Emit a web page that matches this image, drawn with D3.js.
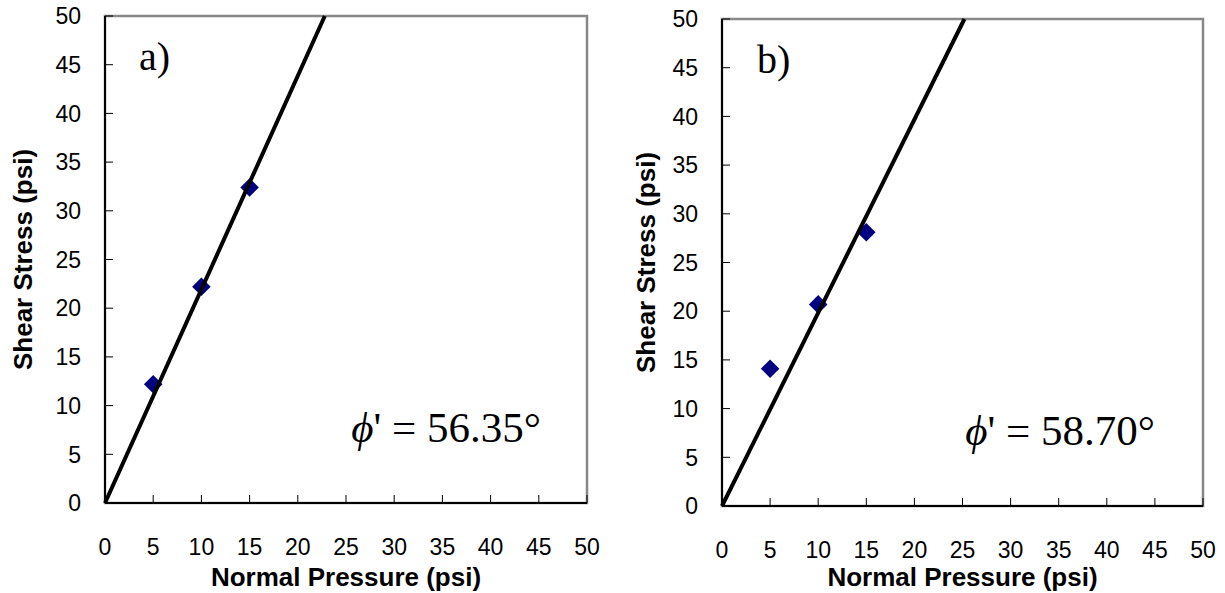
<!DOCTYPE html>
<html>
<head>
<meta charset="utf-8">
<script src="https://cdn.jsdelivr.net/npm/d3@7"></script>
<style>
  body { margin: 0; background: #fff; }
  svg { display: block; }
  .tick-label { font-family: "Liberation Sans", Arial, sans-serif; font-size: 23px; fill: #000; }
  .axis-title { font-family: "Liberation Sans", Arial, sans-serif; font-size: 26px; font-weight: bold; fill: #000; }
  .serif { font-family: "Liberation Serif", "Times New Roman", serif; fill: #000; }
</style>
</head>
<body>
<svg id="chart"></svg>
<script>
// Shear test results
const normalPressure = [5, 10, 15];
const shearStressA = [12.2, 22.2, 32.4];
const shearStressB = [14.1, 20.7, 28.1];

// best-fit line end points (x, y) for each test
const fitXA = [0, 22.8];
const fitYA = [0, 50];
const fitXB = [0, 25.2];
const fitYB = [0, 50];

const axisTicks = [0, 5, 10, 15, 20, 25, 30, 35, 40, 45, 50];
const panelLabels = ['a)', 'b)'];
const frictionAngles = ['56.35°', '58.70°'];

class ShearPlot {

  constructor(_config, _x, _y, _fitX, _fitY) {
    this.config = {
      svg: _config.svg,
      left: _config.left,
      right: _config.right,
      top: _config.top,
      bottom: _config.bottom,
      label: _config.label,
      angle: _config.angle,
      labelPos: _config.labelPos,
      anglePos: _config.anglePos,
      titleX: _config.titleX
    };
    this.data = _x.map((d, i) => ({x: d, y: _y[i]}));
    this.fit = _fitX.map((d, i) => ({x: d, y: _fitY[i]}));
    this.initVis();
  }

  initVis() {
    let vis = this;
    const c = vis.config;

    vis.xScale = d3.scaleLinear().domain([0, 50]).range([c.left, c.right]);
    vis.yScale = d3.scaleLinear().domain([0, 50]).range([c.bottom, c.top]);

    vis.g = c.svg.append('g');

    // plot area frame (grey), axes drawn black over left/bottom
    vis.g.append('rect')
        .attr('x', c.left)
        .attr('y', c.top)
        .attr('width', c.right - c.left)
        .attr('height', c.bottom - c.top)
        .attr('fill', 'none')
        .attr('stroke', '#888')
        .attr('stroke-width', 2.5);

    // inside ticks
    vis.g.selectAll('.xtick')
      .data(axisTicks)
      .join('line')
        .attr('x1', d => vis.xScale(d))
        .attr('x2', d => vis.xScale(d))
        .attr('y1', c.bottom)
        .attr('y2', c.bottom - 8)
        .attr('stroke', '#000')
        .attr('stroke-width', 1);

    vis.g.selectAll('.ytick')
      .data(axisTicks)
      .join('line')
        .attr('x1', c.left)
        .attr('x2', c.left + 8)
        .attr('y1', d => vis.yScale(d))
        .attr('y2', d => vis.yScale(d))
        .attr('stroke', '#000')
        .attr('stroke-width', 1);

    vis.g.append('line')
        .attr('x1', c.left).attr('x2', c.left)
        .attr('y1', c.top).attr('y2', c.bottom)
        .attr('stroke', '#000').attr('stroke-width', 2);
    vis.g.append('line')
        .attr('x1', c.left).attr('x2', c.right)
        .attr('y1', c.bottom).attr('y2', c.bottom)
        .attr('stroke', '#000').attr('stroke-width', 2);

    // tick labels
    vis.g.selectAll('.xlab')
      .data(axisTicks)
      .join('text')
        .attr('class', 'tick-label')
        .attr('x', d => vis.xScale(d))
        .attr('y', c.bottom + 52)
        .attr('text-anchor', 'middle')
        .text(d => d);

    vis.g.selectAll('.ylab')
      .data(axisTicks)
      .join('text')
        .attr('class', 'tick-label')
        .attr('x', c.left - 24)
        .attr('y', d => vis.yScale(d))
        .attr('dy', '0.36em')
        .attr('text-anchor', 'end')
        .text(d => d);

    // axis titles
    vis.g.append('text')
        .attr('class', 'axis-title')
        .attr('x', (c.left + c.right) / 2)
        .attr('y', 586)
        .attr('text-anchor', 'middle')
        .text('Normal Pressure (psi)');

    vis.g.append('text')
        .attr('class', 'axis-title')
        .attr('transform', `translate(${c.titleX},${(c.top + c.bottom) / 2}) rotate(-90)`)
        .attr('text-anchor', 'middle')
        .text('Shear Stress (psi)');

    vis.renderVis();
  }

  renderVis() {
    let vis = this;
    const c = vis.config;

    const line = d3.line()
        .x(d => vis.xScale(d.x))
        .y(d => vis.yScale(d.y));

    vis.g.selectAll('.point')
      .data(vis.data)
      .join('path')
        .attr('class', 'point')
        .attr('d', d3.symbol(d3.symbolDiamond2, 220))
        .attr('transform', d => `translate(${vis.xScale(d.x)},${vis.yScale(d.y)})`)
        .attr('fill', '#000080');

    vis.g.append('path')
        .datum(vis.fit)
        .attr('d', line)
        .attr('fill', 'none')
        .attr('stroke', '#000')
        .attr('stroke-width', 4);

    vis.g.append('text')
        .attr('class', 'serif')
        .attr('x', c.labelPos[0])
        .attr('y', c.labelPos[1])
        .style('font-size', '40px')
        .text(c.label);

    const t = vis.g.append('text')
        .attr('class', 'serif')
        .attr('x', c.anglePos[0])
        .attr('y', c.anglePos[1])
        .attr('text-anchor', 'middle')
        .style('font-size', '43px');
    t.append('tspan').style('font-style', 'italic').text('\u03D5');
    t.append('tspan').text("' = " + c.angle);
  }
}

const svg = d3.select('#chart')
    .attr('width', 1225)
    .attr('height', 593);

new ShearPlot({
  svg: svg, left: 105, right: 587, top: 16, bottom: 503,
  label: panelLabels[0], angle: frictionAngles[0],
  labelPos: [139, 70], anglePos: [446, 442], titleX: 32
}, normalPressure, shearStressA, fitXA, fitYA);

new ShearPlot({
  svg: svg, left: 722, right: 1203, top: 19, bottom: 506,
  label: panelLabels[1], angle: frictionAngles[1],
  labelPos: [757, 73], anglePos: [1060, 445], titleX: 655
}, normalPressure, shearStressB, fitXB, fitYB);
</script>
</body>
</html>
